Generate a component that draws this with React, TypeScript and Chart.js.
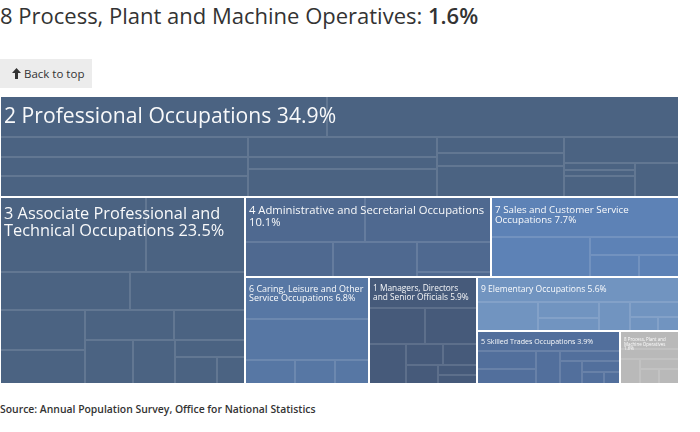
import React, { useEffect, useRef } from "react";
import { Chart, registerables } from "chart.js";

Chart.register(...registerables);

// ---- data ----
const groupNames = [
  "2 Professional Occupations",
  "3 Associate Professional and Technical Occupations",
  "4 Administrative and Secretarial Occupations",
  "7 Sales and Customer Service Occupations",
  "6 Caring, Leisure and Other Service Occupations",
  "1 Managers, Directors and Senior Officials",
  "9 Elementary Occupations",
  "5 Skilled Trades Occupations",
  "8 Process, Plant and Machine Operatives",
];
const groupShares = [34.9, 23.5, 10.1, 7.7, 6.8, 5.9, 5.6, 3.9, 1.6];
const groupColors = [
  "#4b6382",
  "#4b6382",
  "#4f6990",
  "#5d82b6",
  "#5777a4",
  "#465a7a",
  "#7194c0",
  "#526f9c",
  "#b9b9b9",
];

const professionalParts = [6.8, 7.3, 2.57, 2.48, 2.54, 2.0, 1.12, 2.68, 1.04, 0.89, 1.97, 1.55, 0.27, 0.2, 0.75, 0.75];
const associateParts = [5.62, 3.83, 2.47, 2.2, 1.71, 1.48, 1.35, 1.08, 1.09, 0.94, 0.62, 0.57, 0.39];
const administrativeParts = [2.7, 2.85, 1.52, 1.47, 1.1, 0.19];
const salesParts = [3.85, 1.98, 0.82, 0.53, 0.43];
const caringParts = [2.64, 2.6, 0.6, 0.48, 0.41];
const managersParts = [1.71, 1.02, 0.93, 0.76, 0.4, 0.36, 0.3, 0.2, 0.17];
const elementaryParts = [2.59, 0.88, 0.47, 0.4, 0.45, 0.35, 0.2, 0.15];
const skilledParts = [1.47, 0.53, 0.44, 0.39, 0.3, 0.25, 0.2, 0.13, 0.1];
const processParts = [0.55, 0.3, 0.25, 0.2, 0.15, 0.15];

const groupParts = [
  professionalParts,
  associateParts,
  administrativeParts,
  salesParts,
  caringParts,
  managersParts,
  elementaryParts,
  skilledParts,
  processParts,
];

const titleText = "8 Process, Plant and Machine Operatives: ";
const titleValue = "1.6%";
const sourceText = "Source: Annual Population Survey, Office for National Statistics";

// ---- layout (value space 0..100 on both axes) ----
const STRIP_SHARE = 0.28;
type Box = { x: number; y: number; w: number; h: number };

function stripLayout(values: number[], box: Box): Box[] {
  const out: Box[] = new Array(values.length);
  let remaining = values.reduce((a, b) => a + b, 0);
  let r = { ...box };
  let i = 0;
  let first = true;
  while (i < values.length) {
    let j = i;
    let s = 0;
    do {
      s += values[j];
      j++;
    } while (j < values.length && s / remaining < STRIP_SHARE);
    const frac = s / remaining;
    const horizontal = first || r.w <= r.h;
    if (horizontal) {
      const th = r.h * frac;
      let x = r.x;
      for (let k = i; k < j; k++) {
        const w = (r.w * values[k]) / s;
        out[k] = { x, y: r.y, w, h: th };
        x += w;
      }
      r = { x: r.x, y: r.y + th, w: r.w, h: r.h - th };
    } else {
      const tw = r.w * frac;
      let y = r.y;
      for (let k = i; k < j; k++) {
        const h = (r.h * values[k]) / s;
        out[k] = { x: r.x, y, w: tw, h };
        y += h;
      }
      r = { x: r.x + tw, y: r.y, w: r.w - tw, h: r.h };
    }
    remaining -= s;
    i = j;
    first = false;
  }
  return out;
}

function wrapText(ctx: CanvasRenderingContext2D, text: string, maxW: number): string[] {
  const words = text.split(" ");
  const lines: string[] = [];
  let cur = "";
  for (const w of words) {
    const test = cur ? cur + " " + w : w;
    if (cur && ctx.measureText(test).width > maxW) {
      lines.push(cur);
      cur = w;
    } else {
      cur = test;
    }
  }
  if (cur) lines.push(cur);
  return lines;
}

const treemapPlugin = {
  id: "treemapCells",
  afterDatasetsDraw(chart: any) {
    const { ctx } = chart;
    const xs = chart.scales.x;
    const ys = chart.scales.y;
    const toPx = (b: Box) => {
      const x0 = Math.round(xs.getPixelForValue(b.x));
      const x1 = Math.round(xs.getPixelForValue(b.x + b.w));
      const ya = Math.round(ys.getPixelForValue(b.y));
      const yb = Math.round(ys.getPixelForValue(b.y + b.h));
      return { x0, x1, y0: Math.min(ya, yb), y1: Math.max(ya, yb) };
    };
    const groups = stripLayout(groupShares, { x: 0, y: 0, w: 100, h: 100 });
    ctx.save();
    groups.forEach((g, gi) => {
      const p = toPx(g);
      const ix0 = p.x0 + 1, iy0 = p.y0 + 1, iw = p.x1 - p.x0 - 2, ih = p.y1 - p.y0 - 2;
      ctx.fillStyle = groupColors[gi];
      ctx.fillRect(ix0, iy0, iw, ih);
      // sub cells
      ctx.save();
      ctx.beginPath();
      ctx.rect(ix0, iy0, iw, ih);
      ctx.clip();
      const parts = stripLayout(groupParts[gi], g);
      ctx.strokeStyle = "rgba(255,255,255,0.13)";
      ctx.lineWidth = 1;
      parts.forEach((c) => {
        const q = toPx(c);
        ctx.strokeRect(q.x0 + 0.5, q.y0 + 0.5, q.x1 - q.x0 - 1, q.y1 - q.y0 - 1);
      });
      // label
      const w = p.x1 - p.x0;
      const h = p.y1 - p.y0;
      const fs = 0.0935 * Math.pow(w, 0.52) * Math.pow(h, 0.44);
      ctx.font = `${fs.toFixed(2)}px "Open Sans"`;
      ctx.fillStyle = "rgba(255,255,255,0.96)";
      ctx.textBaseline = "alphabetic";
      ctx.textAlign = "left";
      const label = `${groupNames[gi]} ${groupShares[gi].toFixed(1)}%`;
      const lines = wrapText(ctx, label, w - 8);
      lines.forEach((ln, li) => {
        ctx.fillText(ln, p.x0 + 4, p.y0 + 6 + fs + li * fs);
      });
      ctx.restore();
    });
    ctx.restore();
  },
};

export default function App() {
  const canvasRef = useRef<HTMLCanvasElement | null>(null);

  useEffect(() => {
    document.body.style.margin = "0";
    const canvas = canvasRef.current;
    if (!canvas) return;
    const chart = new Chart(canvas, {
      type: "scatter",
      data: { datasets: [{ data: [] }] },
      options: {
        animation: false,
        responsive: true,
        maintainAspectRatio: false,
        events: [],
        layout: { padding: 0 },
        plugins: { legend: { display: false }, tooltip: { enabled: false } },
        scales: {
          x: { type: "linear", min: 0, max: 100, display: false },
          y: { type: "linear", min: 0, max: 100, reverse: true, display: false },
        },
      },
      plugins: [treemapPlugin],
    } as any);
    return () => chart.destroy();
  }, []);

  return (
    <div
      style={{
        position: "relative",
        width: 700,
        height: 432,
        fontFamily: '"Open Sans", sans-serif',
        color: "#333",
        background: "#fff",
      }}
    >
      <div
        style={{
          position: "absolute",
          left: 0,
          top: 0,
          fontSize: 22,
          lineHeight: "30px",
          whiteSpace: "nowrap",
          color: "#333",
        }}
      >
        {titleText}
        <span style={{ fontWeight: 600 }}>{titleValue}</span>
      </div>
      <div
        style={{
          position: "absolute",
          left: 0,
          top: 59,
          width: 92,
          height: 29,
          background: "#ececec",
        }}
      >
        <svg
          width="9"
          height="11"
          viewBox="0 0 9 11"
          style={{ position: "absolute", left: 12, top: 9 }}
        >
          <path d="M4.5 0 L9 5 L6 5 L6 11 L3 11 L3 5 L0 5 Z" fill="#333" />
        </svg>
        <span
          style={{
            position: "absolute",
            left: 24,
            top: 0,
            fontSize: 11.5,
            lineHeight: "29px",
            whiteSpace: "nowrap",
          }}
        >
          Back to top
        </span>
      </div>
      <div style={{ position: "absolute", left: 0, top: 96, width: 679, height: 288 }}>
        <canvas ref={canvasRef} />
      </div>
      <div
        style={{
          position: "absolute",
          left: 0,
          top: 402,
          fontSize: 10.4,
          lineHeight: "14px",
          fontWeight: 600,
          whiteSpace: "nowrap",
          color: "#333",
        }}
      >
        {sourceText}
      </div>
    </div>
  );
}
